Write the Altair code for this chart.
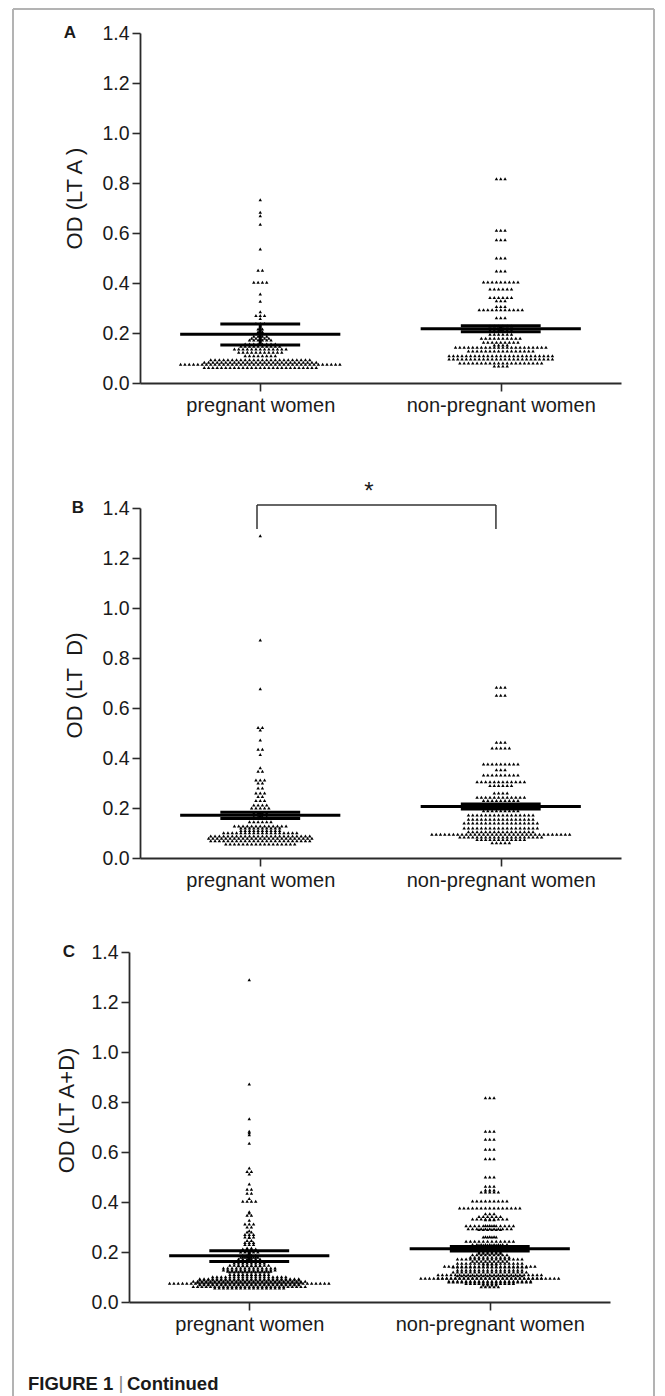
import altair as alt
import pandas as pd

# ---------------- data ----------------
groups = ["pregnant women", "non-pregnant women"]
group_x = [0.5, 1.5]          # category positions on the x scale (domain 0..2)

# LT A, pregnant women: OD of each row of points and the number of points in that row
lta_preg_od = [0.733, 0.683, 0.669, 0.635, 0.536, 0.451, 0.403, 0.356, 0.327, 0.285,
               0.270, 0.258, 0.238, 0.216, 0.205, 0.187, 0.179, 0.172, 0.156, 0.147,
               0.136, 0.123, 0.109, 0.093, 0.083, 0.075, 0.062]
lta_preg_n = [1, 1, 1, 1, 1, 2, 4, 1, 1, 1,
              3, 1, 3, 2, 2, 4, 5, 6, 8, 10,
              13, 11, 8, 24, 27, 38, 27]

# LT A, non-pregnant women
lta_non_od = [0.817, 0.611, 0.573, 0.500, 0.448, 0.404, 0.376, 0.342, 0.329, 0.306,
              0.293, 0.261, 0.228, 0.212, 0.195, 0.179, 0.163, 0.152, 0.143, 0.128,
              0.109, 0.096, 0.080, 0.068]
lta_non_n = [3, 3, 3, 3, 3, 9, 6, 6, 3, 3,
             11, 3, 6, 6, 6, 10, 9, 4, 22, 16,
             25, 25, 20, 4]

# LT D, pregnant women
ltd_preg_od = [1.289, 0.872, 0.677, 0.522, 0.512, 0.472, 0.435, 0.414, 0.361, 0.347,
               0.312, 0.300, 0.280, 0.260, 0.246, 0.230, 0.212, 0.200, 0.180, 0.165,
               0.145, 0.128, 0.120, 0.110, 0.101, 0.088, 0.079, 0.069, 0.056]
ltd_preg_n = [1, 1, 1, 2, 1, 1, 2, 1, 1, 2,
              3, 2, 2, 3, 2, 3, 4, 5, 4, 4,
              6, 13, 10, 10, 18, 24, 25, 24, 17]

# LT D, non-pregnant women
ltd_non_od = [0.683, 0.651, 0.463, 0.440, 0.376, 0.353, 0.332, 0.305, 0.290, 0.260,
              0.243, 0.230, 0.210, 0.200, 0.189, 0.172, 0.155, 0.140, 0.120, 0.105,
              0.095, 0.084, 0.074, 0.061]
ltd_non_n = [3, 3, 3, 5, 9, 3, 9, 12, 6, 4,
             12, 9, 6, 6, 9, 16, 16, 18, 18, 16,
             33, 20, 12, 5]

# mean line and error-bar ends, [pregnant, non-pregnant]
lta_mean = [0.195, 0.217]
lta_low = [0.152, 0.205]
lta_high = [0.236, 0.229]
ltd_mean = [0.171, 0.206]
ltd_low = [0.158, 0.196]
ltd_high = [0.183, 0.216]
ltad_mean = [0.185, 0.213]
ltad_low = [0.162, 0.204]
ltad_high = [0.205, 0.222]

# significance bracket in panel B
bracket_x = [0.4865, 1.48]
bracket_y = [1.316, 1.412]
star_x = [0.952]
star_y = [1.436]

y_ticks = [0.0, 0.2, 0.4, 0.6, 0.8, 1.0, 1.2, 1.4]

# ---------------- styling constants ----------------
FONT = "Liberation Sans, Arial, Helvetica, sans-serif"
INK = "#1a1a1a"
FRAME = "#b3b3b3"
SPACING = 0.0179      # horizontal step between neighbouring points (x units)
MEAN_HALF = 0.333
CAP_HALF = 0.166
W, PLOT_H = 481, 350

label_expr = f"datum.value < 1 ? '{groups[0]}' : '{groups[1]}'"


def points_frame(*series):
    rows = []
    for gi, od, n in series:
        for v, k in zip(od, n):
            rows.extend({"pos": group_x[gi], "od": v} for _ in range(k))
    return pd.DataFrame(rows)


def stats_frame(mean, low, high):
    return pd.DataFrame({"pos": group_x, "mean": mean, "low": low, "high": high})


one = pd.DataFrame({"k": [0]})


def frame_layers(left, right, top, bottom, top_line):
    layers = [
        alt.Chart(one).mark_rule(color=FRAME, strokeWidth=2).encode(
            x=alt.value(left), y=alt.value(top), y2=alt.value(bottom)),
        alt.Chart(one).mark_rule(color=FRAME, strokeWidth=2).encode(
            x=alt.value(right), y=alt.value(top), y2=alt.value(bottom)),
    ]
    if top_line:
        layers.append(alt.Chart(one).mark_rule(color=FRAME, strokeWidth=2).encode(
            x=alt.value(left), x2=alt.value(right), y=alt.value(top)))
    return layers


def text_layer(txt, x, y, size, weight="normal", color=INK, align="left"):
    return alt.Chart(pd.DataFrame({"t": [txt]})).mark_text(
        font=FONT, fontSize=size, fontWeight=weight, color=color, align=align, baseline="middle"
    ).encode(x=alt.value(x), y=alt.value(y), text="t:N")


def panel(pts, stats, ytitle, title_x, title_y, letter, letter_x, frame, height,
          x_shift=0, x_axis_offset=0, top_line=False, extra_fn=None):
    XS = alt.Scale(domain=[0, 2], range=[-x_shift, W - x_shift], nice=False, zero=False)
    YS = alt.Scale(domain=[0, 1.4], range=[PLOT_H, 0], nice=False, zero=False)
    x_axis = alt.Axis(values=group_x, labelExpr=label_expr, title="", tickSize=8,
                      labelFontSize=20, labelPadding=4, labelFlush=False, labelOverlap=False,
                      labelLimit=500, offset=x_axis_offset)
    y_axis = alt.Axis(values=y_ticks, format=".1f", title=ytitle, tickSize=8,
                      labelFontSize=19.5, labelPadding=3, labelFlush=False, labelOverlap=False,
                      titleFontSize=22, titleX=title_x, titleY=title_y,
                      titleBaseline="alphabetic", titleAlign="center", offset=x_shift)

    dots = alt.Chart(pts).transform_window(
        rank="row_number()", groupby=["pos", "od"]
    ).transform_joinaggregate(
        cnt="count()", groupby=["pos", "od"]
    ).transform_calculate(
        xp=f"datum.pos + (datum.rank - (datum.cnt + 1) / 2) * {SPACING}"
    ).mark_point(shape="triangle-up", filled=True, size=12, color="#000", opacity=1,
                 strokeWidth=0).encode(
        x=alt.X("xp:Q", scale=XS, axis=x_axis),
        y=alt.Y("od:Q", scale=YS, axis=y_axis),
    )

    mean_line = alt.Chart(stats).transform_calculate(
        m1=f"datum.pos - {MEAN_HALF}", m2=f"datum.pos + {MEAN_HALF}"
    ).mark_rule(color="#000", strokeWidth=3.2).encode(
        x=alt.X("m1:Q", scale=XS), x2="m2:Q",
        y=alt.Y("mean:Q", scale=YS))

    caps = alt.Chart(stats).transform_fold(
        ["low", "high"], as_=["end", "val"]
    ).transform_calculate(
        c1=f"datum.pos - {CAP_HALF}", c2=f"datum.pos + {CAP_HALF}"
    ).mark_rule(color="#000", strokeWidth=3).encode(
        x=alt.X("c1:Q", scale=XS), x2="c2:Q",
        y=alt.Y("val:Q", scale=YS))

    stem = alt.Chart(stats).mark_rule(color="#000", strokeWidth=3).encode(
        x=alt.X("pos:Q", scale=XS),
        y=alt.Y("low:Q", scale=YS), y2="high:Q")

    let = text_layer(letter, letter_x, 0, 17, weight="bold", align="center")

    extra = extra_fn(XS, YS) if extra_fn else []
    layers = [dots] + frame_layers(*frame, top_line) + [mean_line, caps, stem, let] + extra
    return alt.layer(*layers).properties(width=W, height=height)


def bracket_layers(XS, YS):
    br = pd.DataFrame({
        "x": [bracket_x[0], bracket_x[0], bracket_x[1]],
        "x2": [bracket_x[1], bracket_x[0], bracket_x[1]],
        "y": [bracket_y[1], bracket_y[0], bracket_y[0]],
        "y2": [bracket_y[1], bracket_y[1], bracket_y[1]],
    })
    bracket = alt.Chart(br).mark_rule(color="#333", strokeWidth=1.5).encode(
        x=alt.X("x:Q", scale=XS), x2="x2:Q",
        y=alt.Y("y:Q", scale=YS), y2="y2:Q")
    star = alt.Chart(pd.DataFrame({"x": star_x, "y": star_y, "t": ["*"]})).mark_text(
        font=FONT, fontSize=24, color=INK, align="center", baseline="alphabetic"
    ).encode(x=alt.X("x:Q", scale=XS), y=alt.Y("y:Q", scale=YS), text="t:N")
    return [bracket, star]


def caption_layers(XS, YS):
    return [
        text_layer("FIGURE 1", -112, 432, 18.5, weight="bold"),
        text_layer("|", -19, 431, 19, color="#888", align="center"),
        text_layer("Continued", -13, 432, 18.5, weight="bold"),
    ]


pts_a = points_frame((0, lta_preg_od, lta_preg_n), (1, lta_non_od, lta_non_n))
pts_d = points_frame((0, ltd_preg_od, ltd_preg_n), (1, ltd_non_od, ltd_non_n))
pts_ad = points_frame((0, lta_preg_od, lta_preg_n), (0, ltd_preg_od, ltd_preg_n),
                      (1, lta_non_od, lta_non_n), (1, ltd_non_od, ltd_non_n))

# panel slots (px): A plot top at 33, B at 508, C at 952
HA, HB, HC = 475, 444, 350

pa = panel(pts_a, stats_frame(lta_mean, lta_low, lta_high), "OD (LT A )", -59, 165, "A", -70,
           (-127, 514, -24, HA), HA, x_axis_offset=PLOT_H - HA, top_line=True)
pb = panel(pts_d, stats_frame(ltd_mean, ltd_low, ltd_high), "OD (LT\u00a0 D)", -59, 177, "B", -62,
           (-127, 514, 0, HB), HB, x_axis_offset=PLOT_H - HB, extra_fn=bracket_layers)
pc = panel(pts_ad, stats_frame(ltad_mean, ltad_low, ltad_high), "OD (LT A+D)", -56, 158, "C", -71,
           (-127, 514, 0, 446), HC, x_shift=11, extra_fn=caption_layers)

chart = alt.vconcat(pa, pb, pc, spacing=0, bounds="flush").properties(
    padding={"left": 4, "top": 0, "right": 2, "bottom": 0}, background="white"
).configure_view(stroke=None).configure_axis(
    labelFont=FONT, titleFont=FONT, labelColor=INK, titleColor=INK,
    domainColor="#2a2a2a", tickColor="#2a2a2a", domainWidth=1.8, tickWidth=1.6,
    grid=False, titleFontWeight="normal")

chart.save("out.html", embed_options={"renderer": "svg", "actions": False})
